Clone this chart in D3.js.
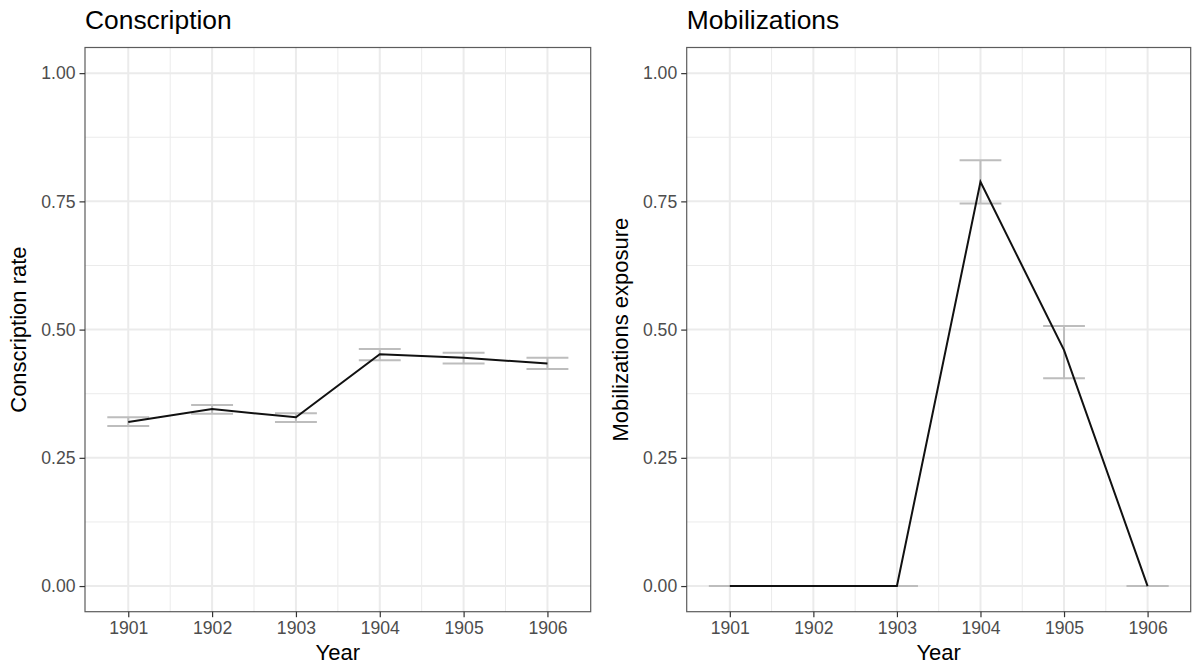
<!DOCTYPE html>
<html>
<head>
<meta charset="utf-8">
<script src="https://cdn.jsdelivr.net/npm/d3@7"></script>
<style>
  body { margin: 0; background: #fff; }
  text { font-family: "Liberation Sans", Arial, sans-serif; }
</style>
</head>
<body>
<div id="chart"></div>
<script>
// data
var years = [1901, 1902, 1903, 1904, 1905, 1906];
var yTicks = [0, 0.25, 0.5, 0.75, 1];

var conscription = [0.320, 0.345, 0.329, 0.452, 0.445, 0.434];
var conscriptionLo = [0.312, 0.336, 0.320, 0.440, 0.434, 0.423];
var conscriptionHi = [0.329, 0.353, 0.337, 0.462, 0.455, 0.445];

var mobilizations = [0, 0, 0, 0.788, 0.460, 0];
var mobilizationsLo = [0, 0, 0, 0.746, 0.405, 0];
var mobilizationsHi = [0, 0, 0, 0.830, 0.507, 0];

var svgWidth = 1192;
var svgHeight = 669;

var svg = d3.select("#chart")
  .append("svg")
  .attr("width", svgWidth)
  .attr("height", svgHeight);

var panelTop = 47.5;
var panelBottom = 611.7;
var height = panelBottom - panelTop;

function drawPanel(left, right, title, yTitle, values, lo, hi) {
  var width = right - left;
  var data = years.map(function(y, i) {
    return { year: y, value: values[i], lo: lo[i], hi: hi[i] };
  });

  var x = d3.scaleLinear().domain([1900.484, 1906.516]).range([0, width]);
  var y = d3.scaleLinear().domain([-0.05, 1.05]).range([height, 0]);

  var g = svg.append("g")
    .attr("transform", `translate(${left}, ${panelTop})`);

  // minor grid
  var minorX = d3.range(1901.5, 1906, 1);
  var minorY = [0.125, 0.375, 0.625, 0.875];
  g.selectAll(".minx").data(minorX).enter().append("line")
    .attr("x1", d => x(d)).attr("x2", d => x(d))
    .attr("y1", 0).attr("y2", height)
    .attr("stroke", "#ebebeb").attr("stroke-width", 1);
  g.selectAll(".miny").data(minorY).enter().append("line")
    .attr("x1", 0).attr("x2", width)
    .attr("y1", d => y(d)).attr("y2", d => y(d))
    .attr("stroke", "#ebebeb").attr("stroke-width", 1);

  // major grid
  g.selectAll(".majx").data(years).enter().append("line")
    .attr("x1", d => x(d)).attr("x2", d => x(d))
    .attr("y1", 0).attr("y2", height)
    .attr("stroke", "#ebebeb").attr("stroke-width", 2);
  g.selectAll(".majy").data(yTicks).enter().append("line")
    .attr("x1", 0).attr("x2", width)
    .attr("y1", d => y(d)).attr("y2", d => y(d))
    .attr("stroke", "#ebebeb").attr("stroke-width", 2);

  // error bars
  var eb = g.selectAll(".eb").data(data).enter().append("g")
    .attr("stroke", "#bdbdbd").attr("stroke-width", 2).attr("fill", "none");
  eb.append("line")
    .attr("x1", d => x(d.year)).attr("x2", d => x(d.year))
    .attr("y1", d => y(d.lo)).attr("y2", d => y(d.hi));
  eb.append("line")
    .attr("x1", d => x(d.year - 0.25)).attr("x2", d => x(d.year + 0.25))
    .attr("y1", d => y(d.lo)).attr("y2", d => y(d.lo));
  eb.append("line")
    .attr("x1", d => x(d.year - 0.25)).attr("x2", d => x(d.year + 0.25))
    .attr("y1", d => y(d.hi)).attr("y2", d => y(d.hi));

  // line
  var line = d3.line().x(d => x(d.year)).y(d => y(d.value));
  g.append("path")
    .datum(data)
    .attr("d", line)
    .attr("fill", "none")
    .attr("stroke", "#111")
    .attr("stroke-width", 2);

  // panel border
  g.append("rect")
    .attr("width", width).attr("height", height)
    .attr("fill", "none").attr("stroke", "#333").attr("stroke-width", 1.2)
    .attr("opacity", 0.8);

  // axes
  var bottomAxis = d3.axisBottom(x).tickValues(years).tickFormat(d3.format("d"))
    .tickSize(5.5).tickPadding(4);
  var leftAxis = d3.axisLeft(y).tickValues(yTicks).tickFormat(d3.format(".2f"))
    .tickSize(5.5).tickPadding(4);

  var xg = g.append("g").attr("transform", `translate(0, ${height})`).call(bottomAxis);
  var yg = g.append("g").call(leftAxis);
  [xg, yg].forEach(function(a) {
    a.select(".domain").remove();
    a.selectAll(".tick line").attr("stroke", "#333").attr("stroke-width", 1.2);
    a.selectAll(".tick text")
      .attr("fill", "#4d4d4d")
      .style("font-size", "17.6px")
      .style("font-family", "'Liberation Sans', Arial, sans-serif");
  });

  // titles
  g.append("text")
    .attr("x", 0).attr("y", 29 - panelTop)
    .text(title)
    .style("font-size", "26.4px")
    .style("fill", "black");

  g.append("text")
    .attr("x", width / 2).attr("y", 660 - panelTop)
    .attr("text-anchor", "middle")
    .text("Year")
    .style("font-size", "22px")
    .style("fill", "black");

  g.append("text")
    .attr("transform", "rotate(-90)")
    .attr("x", -height / 2)
    .attr("y", -left + (left - 59))
    .attr("text-anchor", "middle")
    .text(yTitle)
    .style("font-size", "22px")
    .style("fill", "black");
}

drawPanel(85, 590.7, "Conscription", "Conscription rate",
  conscription, conscriptionLo, conscriptionHi);
drawPanel(686.7, 1190.7, "Mobilizations", "Mobilizations exposure",
  mobilizations, mobilizationsLo, mobilizationsHi);
</script>
</body>
</html>
